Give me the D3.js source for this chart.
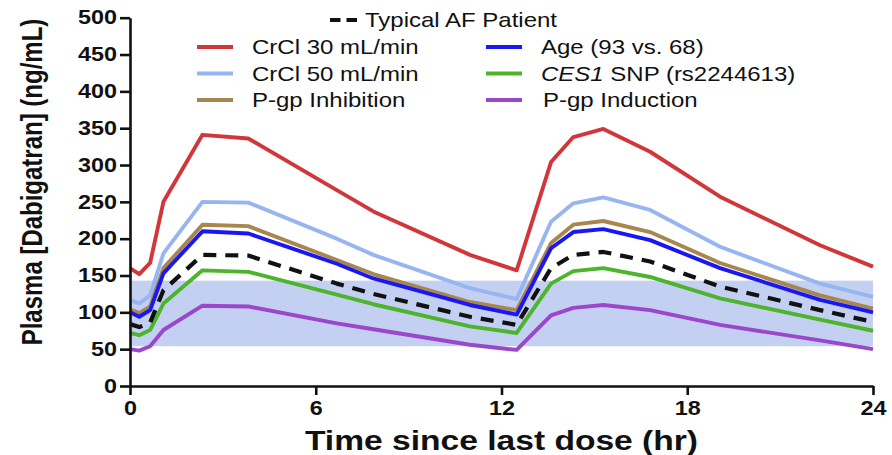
<!DOCTYPE html>
<html>
<head>
<meta charset="utf-8">
<script src="https://cdn.jsdelivr.net/npm/d3@7"></script>
<style>
  html, body { margin: 0; padding: 0; background: #fff; }
  svg { display: block; }
  text { font-family: "Liberation Sans", Arial, sans-serif; fill: #111; }
</style>
</head>
<body>
<svg id="chart" width="892" height="455"></svg>
<script>
// Simulated dabigatran plasma concentration over two 12-h dosing intervals
const times       = [0, 0.3, 0.65, 1.08, 2.34, 3.82, 6.68, 7.86, 10.98, 12.49, 13.6, 14.32, 15.29, 16.8, 19.06, 22.29, 24];
const crcl30      = [160, 152, 167, 250, 341, 336, 266, 237, 178, 157, 304, 338, 349, 318, 257, 191, 162];
const crcl50      = [117, 112, 123, 180, 250, 249, 200, 178, 133, 118, 223, 248, 256, 239, 189, 139, 121];
const pgpInhib    = [104,  99, 108, 160, 219, 217, 171, 152, 114, 103, 194, 219, 224, 209, 167, 123, 105];
const age93       = [100,  94, 103, 153, 210, 207, 166, 146, 110,  97, 187, 209, 213, 198, 160, 117, 100];
const typicalAF   = [ 84,  80,  86, 130, 178, 177, 139, 125,  94,  83, 160, 178, 182, 169, 135, 103,  87];
const ces1Snp     = [ 72,  69,  76, 112, 157, 155, 124, 111,  81,  72, 139, 156, 160, 148, 119,  90,  75];
const pgpInduct   = [ 50,  48,  54,  76, 109, 108,  85,  77,  56,  49,  96, 106, 110, 103,  83,  62,  50];

// Shaded reference range (ng/mL)
const rangeBand = [54, 143];

const xTicks = [0, 6, 12, 18, 24];
const yTicks = [0, 50, 100, 150, 200, 250, 300, 350, 400, 450, 500];

const seriesNames  = ["CrCl 30 mL/min", "CrCl 50 mL/min", "P-gp Inhibition", "Age (93 vs. 68)", "CES1 SNP (rs2244613)", "P-gp Induction", "Typical AF Patient"];
const seriesValues = [crcl30, crcl50, pgpInhib, age93, ces1Snp, pgpInduct, typicalAF];
const seriesColors = ["#d1373a", "#97b5f1", "#a8874f", "#1a17f2", "#4cb52c", "#9a47cb", "#111111"];

const W = 892, H = 455;
const margin = { left: 130, right: 19, top: 17.7, bottom: 69 };
const STRETCH = 1.2; // glyphs are drawn slightly wide

const svg = d3.select("#chart");

const x = d3.scaleLinear().domain([0, 24]).range([margin.left, W - margin.right]);
const y = d3.scaleLinear().domain([0, 500]).range([H - margin.bottom, margin.top]);

// reference range band
svg.append("rect")
  .attr("x", x(0))
  .attr("width", x(24) - x(0))
  .attr("y", y(rangeBand[1]))
  .attr("height", y(rangeBand[0]) - y(rangeBand[1]))
  .attr("fill", "#c4d0f2");

// concentration curves
const line = d3.line().x(d => x(d[0])).y(d => y(d[1]));
seriesValues.forEach((vals, i) => {
  const pts = times.map((t, j) => [t, vals[j]]);
  const p = svg.append("path")
    .datum(pts)
    .attr("d", line)
    .attr("fill", "none")
    .attr("stroke", seriesColors[i])
    .attr("stroke-width", 3.9)
    .attr("stroke-linejoin", "round");
  if (i === 6) p.attr("stroke-dasharray", "13,9").attr("stroke-width", 4.2);
});

// axes
const yAxis = d3.axisLeft(y).tickValues(yTicks).tickSize(10).tickSizeOuter(0).tickPadding(3);
const xAxis = d3.axisBottom(x).tickValues(xTicks).tickSize(9).tickSizeOuter(0).tickPadding(6);

const gy = svg.append("g").attr("transform", `translate(${x(0)},0)`).call(yAxis);
const gx = svg.append("g").attr("transform", `translate(0,${y(0)})`).call(xAxis);

[gx, gy].forEach(g => {
  g.select(".domain").attr("stroke", "#111").attr("stroke-width", 2.6);
  g.selectAll(".tick line").attr("stroke", "#111").attr("stroke-width", 2.6);
  g.selectAll(".tick text")
    .attr("font-size", 19.5)
    .attr("font-weight", "bold")
    .attr("fill", "#111")
    .attr("font-family", "'Liberation Sans', Arial, sans-serif")
    .attr("transform", `scale(${STRETCH},1)`);
});
gy.selectAll(".tick text").attr("x", -13 / STRETCH);

// axis titles
svg.append("text")
  .attr("transform", `translate(${(x(0) + x(24)) / 2},450) scale(${STRETCH},1)`)
  .attr("text-anchor", "middle")
  .attr("font-size", 28)
  .attr("font-weight", "bold")
  .text("Time since last dose (hr)");

svg.append("text")
  .attr("transform", `translate(42,182) rotate(-90) scale(1,${STRETCH})`)
  .attr("text-anchor", "middle")
  .attr("font-size", 24)
  .attr("font-weight", "bold")
  .text("Plasma [Dabigatran] (ng/mL)");

// legend
const legendFont = 20;
const legendItems = [
  { i: 6, sx: 330, tx: 365, y: 20 },
  { i: 0, sx: 197, tx: 252, y: 47 },
  { i: 1, sx: 197, tx: 252, y: 73.5 },
  { i: 2, sx: 197, tx: 252, y: 100 },
  { i: 3, sx: 486, tx: 541, y: 47 },
  { i: 4, sx: 486, tx: 541, y: 73.5 },
  { i: 5, sx: 486, tx: 543, y: 100 }
];
const lg = svg.append("g");
legendItems.forEach(it => {
  const sym = lg.append("line")
    .attr("x1", it.sx).attr("x2", it.sx + 36)
    .attr("y1", it.y).attr("y2", it.y)
    .attr("stroke", seriesColors[it.i])
    .attr("stroke-width", 4);
  if (it.i === 6) sym.attr("x2", it.sx + 27).attr("stroke-dasharray", "10.5,6");
  const t = lg.append("text")
    .attr("transform", `translate(${it.tx},${it.y}) scale(${STRETCH},1)`)
    .attr("dy", "0.36em")
    .attr("font-size", legendFont);
  const name = seriesNames[it.i];
  if (name.startsWith("CES1")) {
    t.append("tspan").attr("font-style", "italic").text("CES1");
    t.append("tspan").text(name.slice(4));
  } else {
    t.text(name);
  }
});
</script>
</body>
</html>
